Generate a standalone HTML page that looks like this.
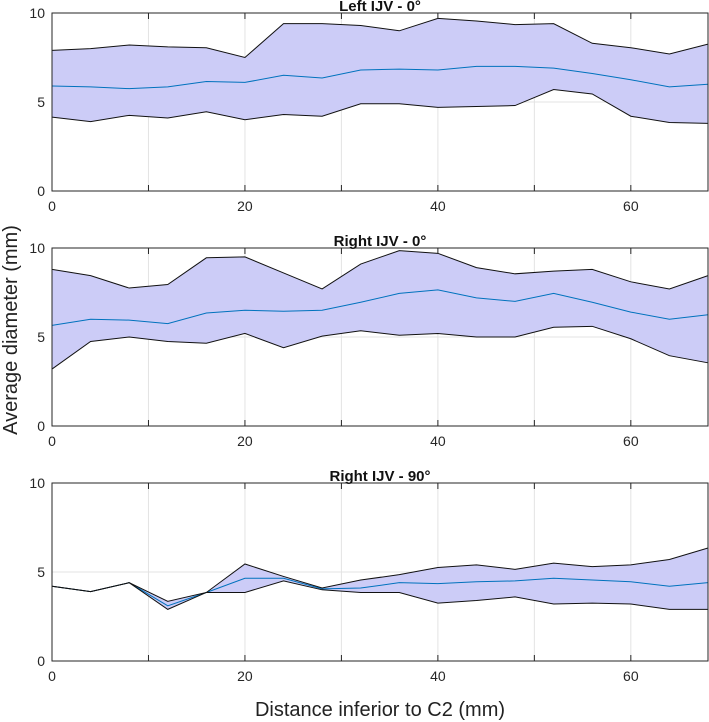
<!DOCTYPE html>
<html><head><meta charset="utf-8"><style>
body{margin:0;background:#fff;}
svg{display:block;font-family:"Liberation Sans",Arial,sans-serif;}
</style></head><body>
<svg id="chart" width="709" height="722">
<text x="17" y="330" transform="rotate(-90 17 330)" text-anchor="middle" font-size="20" fill="#222">Average diameter (mm)</text>
<text x="380" y="716" text-anchor="middle" font-size="20" fill="#222">Distance inferior to C2 (mm)</text>
</svg>
<script>
const xs=[0,4,8,12,16,20,24,28,32,36,40,44,48,52,56,60,64,68];
const titles=["Left IJV - 0°","Right IJV - 0°","Right IJV - 90°"];
const upper1=[7.9,8.0,8.2,8.1,8.05,7.5,9.4,9.4,9.3,9.0,9.7,9.55,9.35,9.4,8.3,8.05,7.7,8.25];
const mean1=[5.9,5.85,5.75,5.85,6.15,6.1,6.5,6.35,6.8,6.85,6.8,7.0,7.0,6.9,6.6,6.25,5.85,6.0];
const lower1=[4.15,3.9,4.25,4.1,4.45,4.0,4.3,4.2,4.9,4.9,4.7,4.75,4.8,5.7,5.45,4.2,3.85,3.8];
const upper2=[8.8,8.45,7.75,7.95,9.45,9.5,8.6,7.7,9.1,9.85,9.7,8.9,8.55,8.7,8.8,8.1,7.7,8.45];
const mean2=[5.65,6.0,5.95,5.75,6.35,6.5,6.45,6.5,6.95,7.45,7.65,7.2,7.0,7.45,6.95,6.4,6.0,6.25];
const lower2=[3.2,4.75,5.0,4.75,4.65,5.2,4.4,5.05,5.35,5.1,5.2,5.0,5.0,5.55,5.6,4.9,3.95,3.55];
const upper3=[4.2,3.9,4.4,3.35,3.85,5.45,4.75,4.1,4.55,4.85,5.25,5.4,5.15,5.5,5.3,5.4,5.7,6.35];
const mean3=[4.2,3.9,4.4,3.1,3.85,4.65,4.65,4.05,4.1,4.4,4.35,4.45,4.5,4.65,4.55,4.45,4.2,4.4];
const lower3=[4.2,3.9,4.4,2.9,3.85,3.85,4.5,4.0,3.85,3.85,3.25,3.4,3.6,3.2,3.25,3.2,2.9,2.9];
const xTicks=[0,20,40,60];
const xGrid=[10,20,30,40,50,60];
const yTicks=[0,5,10];
const panels=[[upper1,mean1,lower1],[upper2,mean2,lower2],[upper3,mean3,lower3]];
const svg=document.getElementById('chart');
const NS='http://www.w3.org/2000/svg';
const L=52,R=708,tops=[13,248,483],H=178;
function mk(t,a,p){const e=document.createElementNS(NS,t);for(const k in a)e.setAttribute(k,a[k]);(p||svg).appendChild(e);return e;}
panels.forEach((d,pi)=>{
  const T=tops[pi],B=T+H;
  const sx=v=>L+(v-0)/(68-0)*(R-L);
  const sy=v=>B-v/10*H;
  const g=mk('g',{});
  
  
  xGrid.forEach(v=>{const l=mk('line',{x1:sx(v),x2:sx(v),y1:T,y2:B,stroke:'#e3e3e3','stroke-width':1},g);
    });
  yTicks.forEach(v=>{const l=mk('line',{x1:L,x2:R,y1:sy(v),y2:sy(v),stroke:'#e3e3e3','stroke-width':1},g);
    });
  const [up,mn,lo]=d;
  let pts=xs.map((x,i)=>sx(x)+','+sy(up[i]));
  pts=pts.concat(xs.map((x,i)=>sx(x)+','+sy(lo[i])).reverse());
  const band=mk('polygon',{points:pts.join(' '),fill:'#ccccf7',stroke:'none'},g);
  
  const ml=mk('polyline',{points:xs.map((x,i)=>sx(x)+','+sy(mn[i])).join(' '),fill:'none',stroke:'#0072BD','stroke-width':1},g);
  
  const ul=mk('polyline',{points:xs.map((x,i)=>sx(x)+','+sy(up[i])).join(' '),fill:'none',stroke:'#111','stroke-width':1},g);
  
  const ll=mk('polyline',{points:xs.map((x,i)=>sx(x)+','+sy(lo[i])).join(' '),fill:'none',stroke:'#111','stroke-width':1},g);
  
  const box=mk('rect',{x:L,y:T,width:R-L,height:H,fill:'none',stroke:'#262626','stroke-width':1},g);
  
  xGrid.concat([0]).forEach(v=>{mk('line',{x1:sx(v),x2:sx(v),y1:B,y2:B-6,stroke:'#262626'},g);mk('line',{x1:sx(v),x2:sx(v),y1:T,y2:T+6,stroke:'#262626'},g);});
  xTicks.forEach(v=>{const t=mk('text',{x:sx(v),y:B+20,'text-anchor':'middle','font-size':14,fill:'#262626'},g);t.textContent=v;
    });
  yTicks.forEach(v=>{const t=mk('text',{x:L-7,y:sy(v)+5,'text-anchor':'end','font-size':14,fill:'#262626'},g);t.textContent=v;
    });
  const tt=mk('text',{x:(L+R)/2,y:T-2,'text-anchor':'middle','font-size':15,'font-weight':'bold',fill:'#111'},g);tt.textContent=titles[pi];
  
});
</script>
</body></html>
